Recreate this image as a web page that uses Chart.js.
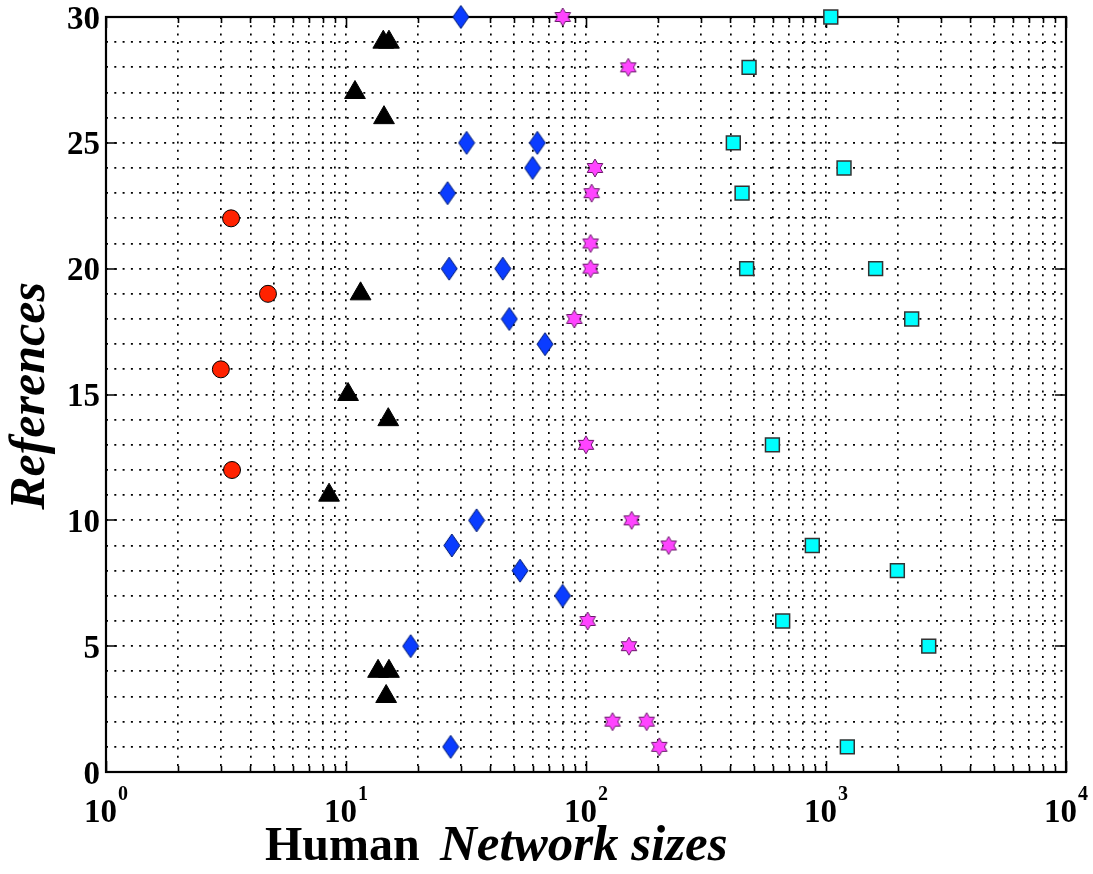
<!DOCTYPE html>
<html><head><meta charset="utf-8">
<script src="https://cdn.jsdelivr.net/npm/chart.js@4.4.1/dist/chart.umd.min.js"></script>
<style>html,body{margin:0;padding:0;background:#fff}#wrap{width:1093px;height:874px}</style>
</head><body><div id="wrap"><canvas id="c"></canvas></div>
<script>
'use strict';

/* ═══════════ DATA ═══════════ */
var circleRefs=[22,19,16,12];
var circleSizes=[3.32,4.73,3.01,3.35];
var triRefs=[29,29,27,26,19,15,14,11,4,4,3];
var triSizes=[14.3,15.1,10.9,14.4,11.5,10.2,15.0,8.5,13.6,15.1,14.7];
var diaRefs=[30,25,25,24,23,20,20,18,17,10,9,8,7,5,1];
var diaSizes=[30.1,31.8,62.7,59.9,26.5,26.9,45.0,47.9,67.5,35.0,27.6,53.1,79.9,18.6,27.3];
var starRefs=[30,28,24,23,21,20,18,13,10,9,6,5,2,2,1];
var starSizes=[80,150,109,105.6,104.5,104.5,89.4,100,155,221,101.6,151,129,179,202];
var sqRefs=[30,28,25,24,23,20,20,18,13,9,8,6,5,1];
var sqSizes=[1047,478,411,1189,447,467,1610,2275,598,877,1983,660,2680,1227];

var yTicks=[0,5,10,15,20,25,30];
var xDecades=[1,10,100,1000,10000];
var xExps=['0','1','2','3','4'];

/* ═══════════ HELPERS ═══════════ */
function pts(xs,ys){return xs.map(function(x,i){return{x:x,y:ys[i]}})}
function logGrid(){var v=[];for(var d=0;d<4;d++)for(var m=1;m<10;m++)v.push(m*xDecades[d]);v.push(xDecades[4]);return v}
var xGrid=logGrid();

function mkDiamond(w,h,fill,stroke){var c=document.createElement('canvas');c.width=w+2;c.height=h+2;
  var g=c.getContext('2d');g.beginPath();g.moveTo(c.width/2,1);g.lineTo(c.width-1,c.height/2);
  g.lineTo(c.width/2,c.height-1);g.lineTo(1,c.height/2);g.closePath();
  g.fillStyle=fill;g.fill();g.strokeStyle=stroke;g.lineWidth=1;g.stroke();return c}
function mkStar(R,fill,stroke){var s=Math.ceil(R*2)+2,c=document.createElement('canvas');c.width=s;c.height=s;
  var g=c.getContext('2d'),cx=s/2,cy=s/2,r=R/Math.sqrt(3);g.beginPath();
  for(var i=0;i<12;i++){var a=-Math.PI/2+i*Math.PI/6,rr=i%2?r:R;
    if(i)g.lineTo(cx+rr*Math.cos(a),cy+rr*Math.sin(a));else g.moveTo(cx+rr*Math.cos(a),cy+rr*Math.sin(a))}
  g.closePath();g.fillStyle=fill;g.fill();g.strokeStyle=stroke;g.lineWidth=1;g.stroke();return c}

var SERIF='"Liberation Serif","Times New Roman",serif';

/* ═══════════ FRAME + TICKS ═══════════ */
var framePlugin={id:'frame',
  beforeDatasetsDraw:function(ch){var a=ch.chartArea,c=ch.ctx,xs=ch.scales.x,ys=ch.scales.y;
    c.save();c.strokeStyle='#000';c.lineWidth=2.2;c.strokeRect(a.left,a.top,a.right-a.left,a.bottom-a.top);
    c.lineWidth=1.6;c.beginPath();
    yTicks.forEach(function(v){var p=Math.round(ys.getPixelForValue(v));
      c.moveTo(a.left,p);c.lineTo(a.left+11,p);c.moveTo(a.right,p);c.lineTo(a.right-11,p)});
    xGrid.forEach(function(v){var p=Math.round(xs.getPixelForValue(v))+.5,len=xDecades.indexOf(v)>=0?11:6;
      c.moveTo(p,a.bottom);c.lineTo(p,a.bottom-len);c.moveTo(p,a.top);c.lineTo(p,a.top+len)});
    c.stroke();c.restore()},
  afterDraw:function(ch){var c=ch.ctx,xs=ch.scales.x,ys=ch.scales.y;
    c.save();c.fillStyle='#000';
    /* y tick labels */
    c.font='bold 33px '+SERIF;c.textAlign='right';c.textBaseline='middle';
    yTicks.forEach(function(v){c.fillText(String(v),100,ys.getPixelForValue(v)+3)});
    /* x tick labels: 10 with raised exponent */
    c.textAlign='left';c.textBaseline='alphabetic';
    xDecades.forEach(function(v,i){var p=xs.getPixelForValue(v);
      c.font='bold 33px '+SERIF;var w1=c.measureText('10').width;
      c.font='bold 20px '+SERIF;var w2=c.measureText(xExps[i]).width;
      var x0=p-(w1+w2+1)/2;
      c.font='bold 33px '+SERIF;c.fillText('10',x0,822);
      c.font='bold 20px '+SERIF;c.fillText(xExps[i],x0+w1+1,800)});
    /* axis titles */
    c.font='bold 48px '+SERIF;c.fillText('Human',265,860);
    c.font='italic bold 51px '+SERIF;c.fillText('Network sizes',440,860);
    c.translate(44,396);c.rotate(-Math.PI/2);c.textAlign='center';
    c.font='italic bold 50px '+SERIF;c.fillText('References',0,0);
    c.restore()}};

/* ═══════════ CHART ═══════════ */
var gridOpts={color:'#000',lineWidth:1.7,drawTicks:false};
new Chart(document.getElementById('c'),{type:'scatter',
  data:{datasets:[
    {data:pts(circleSizes,circleRefs),pointStyle:'circle',pointRadius:8.5,backgroundColor:'#ff2200',borderColor:'#000',borderWidth:1,clip:false},
    {data:pts(triSizes,triRefs),pointStyle:'triangle',pointRadius:12,backgroundColor:'#000',borderColor:'#000',borderWidth:1,clip:false},
    {data:pts(diaSizes,diaRefs),pointStyle:mkDiamond(16,23,'#0a3cff','#001a70'),pointRadius:11,clip:false},
    {data:pts(starSizes,starRefs),pointStyle:mkStar(9,'#ff44ff','#6a1a6a'),pointRadius:9,clip:false},
    {data:pts(sqSizes,sqRefs),pointStyle:'rect',pointRadius:9.8,backgroundColor:'#00ffff',borderColor:'#333',borderWidth:1.5,clip:false}
  ]},
  options:{responsive:true,maintainAspectRatio:false,animation:false,devicePixelRatio:1,
    layout:{padding:{left:0,right:27,top:17,bottom:0}},
    plugins:{legend:{display:false},tooltip:{enabled:false}},
    scales:{
      x:{type:'logarithmic',min:1,max:10000,
        afterBuildTicks:function(s){s.ticks=xGrid.map(function(v){return{value:v}})},
        afterFit:function(s){s.height=102},
        ticks:{display:false},grid:gridOpts,border:{display:false,dash:[2,6.3]}},
      y:{min:0,max:30,ticks:{display:false,stepSize:1},
        afterFit:function(s){s.width=106},
        grid:gridOpts,border:{display:false,dash:[2,6.3]}}
    }},
  plugins:[framePlugin]});
</script></body></html>
